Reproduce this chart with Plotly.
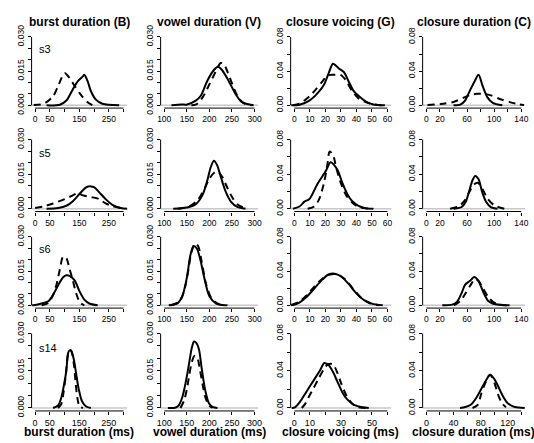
import plotly.graph_objects as go

# ---------------- data ----------------
column_titles = ["burst duration (B)", "vowel duration (V)", "closure voicing (G)", "closure duration (C)"]
x_titles = ["burst duration (ms)", "vowel duration (ms)", "closure voicing (ms)", "closure duration (ms)"]
speakers = ["s3", "s5", "s6", "s14"]

# tick values / labels
x_tickvals = [[0, 50, 100, 150, 200, 250, 300],
              [100, 150, 200, 250, 300],
              [0, 10, 20, 30, 40, 50, 60],
              [0, 20, 40, 60, 80, 100, 120, 140]]
x_ticktext_top = [["0", "50", "", "150", "", "250", ""],
                  ["100", "150", "200", "250", "300"],
                  ["0", "10", "20", "30", "40", "50", "60"],
                  ["0", "20", "", "60", "", "100", "", "140"]]
x_ticktext_bottom = [["0", "50", "", "150", "", "250", ""],
                     ["100", "150", "200", "250", "300"],
                     ["0", "10", "", "30", "", "50", ""],
                     ["0", "", "40", "", "80", "", "120", ""]]
y_tickvals_dur = [0, 0.005, 0.010, 0.015, 0.020, 0.025, 0.030]
y_ticktext_dur = ["0.000", "", "", "0.015", "", "", "0.030"]
y_tickvals_cl = [0, 0.02, 0.04, 0.06, 0.08]
y_ticktext_cl = ["0.00", "", "0.04", "", "0.08"]

# ---- s3 ----
s3_B_solid_x = [39, 84, 106, 128, 145, 162, 167, 178, 189, 206, 228, 285]
s3_B_solid_y = [0, 0.0003, 0.0021, 0.0071, 0.0106, 0.0127, 0.0134, 0.0106, 0.0063, 0.0025, 0.0007, 0]
s3_B_dash_x = [-5, 20, 39, 62, 78, 95, 101, 117, 134, 156, 178, 195]
s3_B_dash_y = [0.0001, 0.0004, 0.0014, 0.0042, 0.0085, 0.0134, 0.0141, 0.012, 0.0085, 0.0045, 0.0014, 0]
s3_V_solid_x = [116, 138, 149, 170, 181, 195, 210, 219, 228, 243, 258, 272, 298]
s3_V_solid_y = [0, 0.0004, 0.0003, 0.0021, 0.0042, 0.0106, 0.0155, 0.0169, 0.0155, 0.0106, 0.005, 0.0014, 0]
s3_V_dash_x = [160, 171, 185, 200, 214, 225, 232, 240, 251, 262, 276, 294]
s3_V_dash_y = [0, 0.0004, 0.0035, 0.0092, 0.0148, 0.0186, 0.018, 0.0148, 0.0092, 0.0042, 0.001, 0]
s3_G_solid_x = [-2, 3.3, 9.7, 15, 19.2, 22.4, 24.9, 28.7, 31.9, 35, 38.2, 42.5, 46.7, 51, 58.4]
s3_G_solid_y = [0, 0.0008, 0.0056, 0.0143, 0.0245, 0.039, 0.0488, 0.0432, 0.039, 0.028, 0.017, 0.0094, 0.0037, 0.0011, 0]
s3_G_dash_x = [-1, 3.3, 9.7, 13.9, 18.1, 21.3, 25.5, 29.8, 33, 37.2, 41.4, 47.8, 56.2]
s3_G_dash_y = [0, 0.0019, 0.0105, 0.0188, 0.028, 0.035, 0.0357, 0.0357, 0.03, 0.017, 0.0082, 0.0026, 0]
s3_C_solid_x = [40, 50, 57, 64, 71, 77, 83, 90, 98, 112]
s3_C_solid_y = [0, 0.0008, 0.0056, 0.017, 0.028, 0.0357, 0.0225, 0.0094, 0.003, 0]
s3_C_dash_x = [1.6, 21, 40, 55, 64.5, 74, 84, 94, 108, 123, 137, 144]
s3_C_dash_y = [0.0005, 0.0015, 0.004, 0.009, 0.012, 0.0135, 0.0135, 0.012, 0.0075, 0.0038, 0.0011, 0.0003]

# ---- s5 ----
s5_B_solid_x = [39, 78, 106, 128, 151, 173, 189, 201, 217, 239, 262, 290, 318]
s5_B_solid_y = [0, 0.0003, 0.0013, 0.0033, 0.0065, 0.0093, 0.0097, 0.0093, 0.0072, 0.0042, 0.0017, 0.0003, 0]
s5_B_dash_x = [0, 28, 61, 100, 128, 145, 162, 189, 217, 239, 262, 290]
s5_B_dash_y = [0.0003, 0.001, 0.0023, 0.0042, 0.0058, 0.0068, 0.0058, 0.0051, 0.0042, 0.0023, 0.0012, 0.0003]
s5_V_solid_x = [120, 150, 170, 185, 195, 203, 210, 217, 225, 235, 248, 262, 280]
s5_V_solid_y = [0, 0.0005, 0.002, 0.006, 0.012, 0.018, 0.0208, 0.019, 0.014, 0.008, 0.003, 0.0008, 0]
s5_V_dash_x = [130, 155, 175, 190, 200, 210, 218, 228, 240, 252, 265, 285]
s5_V_dash_y = [0, 0.001, 0.004, 0.009, 0.013, 0.0155, 0.0162, 0.014, 0.009, 0.0045, 0.0015, 0]
s5_G_solid_x = [-0.9, 3.3, 6.5, 9.7, 14.9, 20.3, 23.4, 27.6, 30.8, 34, 37.2, 41.4, 45.7, 51]
s5_G_solid_y = [0, 0.0026, 0.0082, 0.0112, 0.0287, 0.0438, 0.0539, 0.0456, 0.0306, 0.0175, 0.009, 0.0034, 0.0007, 0]
s5_G_dash_x = [8.6, 12.8, 16, 19.2, 21.3, 22.8, 24.9, 27, 29.8, 33.4, 37.2, 41.4, 45.7, 49.9]
s5_G_dash_y = [0, 0.0026, 0.0112, 0.0306, 0.0512, 0.0662, 0.0625, 0.0475, 0.0306, 0.0157, 0.0071, 0.0022, 0.0007, 0]
s5_C_solid_x = [40, 52, 58, 63, 68, 72, 77, 82, 88, 95, 105]
s5_C_solid_y = [0, 0.002, 0.008, 0.02, 0.033, 0.038, 0.034, 0.02, 0.008, 0.002, 0]
s5_C_dash_x = [35, 48, 56, 63, 70, 76, 82, 90, 100, 115]
s5_C_dash_y = [0, 0.003, 0.009, 0.019, 0.028, 0.03, 0.024, 0.012, 0.004, 0]

# ---- s6 ----
s6_B_solid_x = [-10, 0, 22, 45, 61, 78, 95, 106, 117, 134, 151, 167, 184, 212]
s6_B_solid_y = [0, 0.0002, 0.0008, 0.0018, 0.0046, 0.0088, 0.0123, 0.0132, 0.0129, 0.0109, 0.006, 0.0025, 0.0008, 0]
s6_B_dash_x = [22, 45, 61, 72, 84, 95, 106, 117, 128, 139, 153, 167]
s6_B_dash_y = [0, 0.0011, 0.0046, 0.0088, 0.0158, 0.0213, 0.0206, 0.0158, 0.0109, 0.0053, 0.0011, 0]
s6_V_solid_x = [110, 130, 140, 150, 158, 165, 172, 180, 190, 200, 215, 235]
s6_V_solid_y = [0, 0.001, 0.004, 0.012, 0.022, 0.026, 0.025, 0.02, 0.011, 0.004, 0.0008, 0]
s6_V_dash_x = [115, 135, 145, 153, 160, 168, 175, 183, 193, 205, 220, 240]
s6_V_dash_y = [0, 0.002, 0.007, 0.015, 0.023, 0.027, 0.026, 0.019, 0.009, 0.003, 0.0006, 0]
s6_G_solid_x = [-2, 3, 8, 13, 18, 22, 26, 30, 35, 40, 45, 50, 57]
s6_G_solid_y = [0, 0.003, 0.01, 0.02, 0.03, 0.036, 0.037, 0.034, 0.025, 0.014, 0.006, 0.002, 0]
s6_G_dash_x = [-2, 3, 8, 13, 18, 23, 28, 33, 38, 43, 48, 55]
s6_G_dash_y = [0.0005, 0.004, 0.012, 0.022, 0.031, 0.036, 0.036, 0.03, 0.019, 0.009, 0.003, 0]
s6_C_solid_x = [23.4, 38, 45, 52.5, 57, 64.4, 70.3, 76.7, 84, 91.3, 98.5, 110.6, 122.7]
s6_C_solid_y = [0, 0.0008, 0.0039, 0.0153, 0.024, 0.0286, 0.0331, 0.0286, 0.0153, 0.005, 0.0019, 0.0005, 0]
s6_C_dash_x = [40.4, 50, 57.3, 64.5, 71.8, 76.7, 84, 91.3, 98.5, 108, 118]
s6_C_dash_y = [0, 0.005, 0.0134, 0.0229, 0.0305, 0.0286, 0.0191, 0.0096, 0.0039, 0.0008, 0]

# ---- s14 ----
s14_B_solid_x = [61, 78, 89, 100, 106, 112, 117, 123, 131, 139, 148, 159, 173, 189]
s14_B_solid_y = [0, 0.001, 0.0042, 0.0107, 0.0152, 0.0222, 0.0232, 0.0229, 0.0197, 0.0139, 0.0075, 0.0027, 0.0006, 0]
s14_B_dash_x = [78, 89, 97, 104, 109, 115, 121, 126, 132, 137, 143, 151, 162]
s14_B_dash_y = [0, 0.0017, 0.0068, 0.0132, 0.0197, 0.0229, 0.0233, 0.0216, 0.0171, 0.0107, 0.0042, 0.0006, 0]
s14_V_solid_x = [108, 124, 132, 140, 148, 155.5, 161, 166, 171, 177, 183, 191, 199, 207, 218]
s14_V_solid_y = [0, 0.0001, 0.001, 0.0043, 0.0107, 0.0184, 0.0242, 0.0268, 0.0262, 0.0236, 0.0159, 0.0069, 0.0019, 0.0004, 0]
s14_V_dash_x = [136, 144, 150, 155.5, 161, 167, 173, 178, 185, 191, 199, 207]
s14_V_dash_y = [0, 0.003, 0.0075, 0.0133, 0.0184, 0.021, 0.0204, 0.0165, 0.0094, 0.0043, 0.001, 0]
s14_G_solid_x = [-1.7, 0.4, 3.7, 7, 10.2, 13.5, 16.7, 19.3, 22.2, 24.8, 27.6, 30.9, 34.1, 38.5, 43.9, 48]
s14_G_solid_y = [0, 0.0007, 0.0068, 0.0153, 0.0238, 0.0323, 0.0408, 0.0483, 0.0459, 0.0391, 0.0289, 0.017, 0.0092, 0.0034, 0.0007, 0]
s14_G_dash_x = [4.8, 7, 9.1, 12.4, 15.7, 18.9, 21.7, 24.8, 27.6, 30.4, 33.5, 37, 40.7, 46]
s14_G_dash_y = [0, 0.0044, 0.0112, 0.0214, 0.0316, 0.0415, 0.047, 0.047, 0.0384, 0.0255, 0.0136, 0.0051, 0.001, 0]
s14_C_solid_x = [49.6, 57.4, 65.3, 73, 80.9, 88.7, 94, 99, 104.4, 112.2, 120, 130.5, 145]
s14_C_solid_y = [0, 0.001, 0.0034, 0.0102, 0.0204, 0.0306, 0.0357, 0.0323, 0.0255, 0.0136, 0.0051, 0.001, 0]
s14_C_dash_x = [68, 75.7, 80.9, 86.1, 91.4, 94, 97.6, 101.8, 107, 112.2, 117.4]
s14_C_dash_y = [0, 0.0034, 0.0153, 0.0255, 0.034, 0.0357, 0.0323, 0.0238, 0.0119, 0.0044, 0.0007]

# panel table built from the named arrays: (solid x, solid y, dashed x, dashed y)
panels = [
    [(s3_B_solid_x, s3_B_solid_y, s3_B_dash_x, s3_B_dash_y),
     (s3_V_solid_x, s3_V_solid_y, s3_V_dash_x, s3_V_dash_y),
     (s3_G_solid_x, s3_G_solid_y, s3_G_dash_x, s3_G_dash_y),
     (s3_C_solid_x, s3_C_solid_y, s3_C_dash_x, s3_C_dash_y)],
    [(s5_B_solid_x, s5_B_solid_y, s5_B_dash_x, s5_B_dash_y),
     (s5_V_solid_x, s5_V_solid_y, s5_V_dash_x, s5_V_dash_y),
     (s5_G_solid_x, s5_G_solid_y, s5_G_dash_x, s5_G_dash_y),
     (s5_C_solid_x, s5_C_solid_y, s5_C_dash_x, s5_C_dash_y)],
    [(s6_B_solid_x, s6_B_solid_y, s6_B_dash_x, s6_B_dash_y),
     (s6_V_solid_x, s6_V_solid_y, s6_V_dash_x, s6_V_dash_y),
     (s6_G_solid_x, s6_G_solid_y, s6_G_dash_x, s6_G_dash_y),
     (s6_C_solid_x, s6_C_solid_y, s6_C_dash_x, s6_C_dash_y)],
    [(s14_B_solid_x, s14_B_solid_y, s14_B_dash_x, s14_B_dash_y),
     (s14_V_solid_x, s14_V_solid_y, s14_V_dash_x, s14_V_dash_y),
     (s14_G_solid_x, s14_G_solid_y, s14_G_dash_x, s14_G_dash_y),
     (s14_C_solid_x, s14_C_solid_y, s14_C_dash_x, s14_C_dash_y)],
]

# ---------------- layout geometry (pixels) ----------------
W, H = 534, 443
col_px = [(28, 125), (159, 258), (291, 393), (425, 529)]
col_xrange = [(-12, 312), (92, 308), (-2.4, 62.4), (-5.6, 145.6)]
row_px = [(26.2, 102.8), (132.6, 210.1), (233.5, 310.3), (333.6, 417.0)]
col_yrange = [(-0.0012, 0.0312), (-0.0012, 0.0312), (-0.0032, 0.0832), (-0.0032, 0.0832)]

FONT = "Liberation Sans, Arial, sans-serif"

fig = go.Figure()
layout = dict(width=W, height=H, margin=dict(l=0, r=0, t=0, b=0, pad=0),
              paper_bgcolor="white", plot_bgcolor="white", showlegend=False,
              font=dict(family=FONT, color="black"))
shapes = []
annotations = []

for r in range(4):
    for c in range(4):
        k = r * 4 + c + 1
        sfx = "" if k == 1 else str(k)
        xa, ya = "xaxis" + sfx, "yaxis" + sfx
        xr, yr = "x" + sfx, "y" + sfx
        x0p, x1p = col_px[c]
        top, bot = row_px[r]
        bottom_row = (r == 3)
        tick_fs = 9 if bottom_row else 8.5
        layout[xa] = dict(domain=[x0p / W, x1p / W], range=list(col_xrange[c]), anchor=yr,
                          showgrid=False, zeroline=False, showline=False,
                          ticks="outside", ticklen=3, tickwidth=1, tickcolor="black",
                          tickmode="array", tickvals=x_tickvals[c],
                          ticktext=(x_ticktext_bottom[c] if bottom_row else x_ticktext_top[c]),
                          tickfont=dict(size=tick_fs, family=FONT, color="black"))
        yvals = y_tickvals_dur if c < 2 else y_tickvals_cl
        ytext = y_ticktext_dur if c < 2 else y_ticktext_cl
        layout[ya] = dict(domain=[1 - bot / H, 1 - top / H], range=list(col_yrange[c]), anchor=xr,
                          showgrid=False, zeroline=False, showline=False,
                          ticks="outside", ticklen=3, tickwidth=1, tickcolor="black",
                          tickmode="array", tickvals=yvals, ticktext=ytext, tickangle=-90,
                          tickfont=dict(size=8.5, family=FONT, color="black"))
        # gray zero line
        shapes.append(dict(type="line", xref=xr + " domain", yref=yr, x0=0, x1=1, y0=0, y1=0,
                           line=dict(color="#c8c8c8", width=1.5), layer="below"))
        # R-style axis lines (first to last tick)
        shapes.append(dict(type="line", xref=xr + " domain", yref=yr, x0=0, x1=0,
                           y0=yvals[0], y1=yvals[-1], line=dict(color="black", width=1)))
        shapes.append(dict(type="line", xref=xr, yref=yr + " domain", x0=x_tickvals[c][0],
                           x1=x_tickvals[c][-1], y0=0, y1=0, line=dict(color="black", width=1)))
        sx, sy, dx, dy = panels[r][c]
        fig.add_trace(go.Scatter(x=sx, y=sy, xaxis=xr, yaxis=yr, mode="lines",
                                 line=dict(color="black", width=2, shape="spline", smoothing=0.8),
                                 hoverinfo="skip"))
        fig.add_trace(go.Scatter(x=dx, y=dy, xaxis=xr, yaxis=yr, mode="lines",
                                 line=dict(color="black", width=2, dash="7px,5px",
                                           shape="spline", smoothing=0.8),
                                 hoverinfo="skip"))

# column titles
for c in range(4):
    cx = (col_px[c][0] + col_px[c][1]) / 2 / W
    annotations.append(dict(text="<b>" + column_titles[c] + "</b>", x=cx, y=1 - 13 / H,
                            xref="paper", yref="paper", showarrow=False, xanchor="center",
                            yanchor="middle", font=dict(size=12, family=FONT, color="black")))
    annotations.append(dict(text="<b>" + x_titles[c] + "</b>", x=cx, y=1 - 438.5 / H,
                            xref="paper", yref="paper", showarrow=False, xanchor="center",
                            yanchor="middle", font=dict(size=12, family=FONT, color="black")))

# speaker labels
label_y = [42, 149, 249, 352]
for r in range(4):
    annotations.append(dict(text=speakers[r], x=33 / W, y=1 - label_y[r] / H, xref="paper",
                            yref="paper", showarrow=False, xanchor="left", yanchor="middle",
                            font=dict(size=11, family=FONT, color="black")))

layout["shapes"] = shapes
layout["annotations"] = annotations
fig.update_layout(**layout)
fig.write_html("out.html", config={"displayModeBar": False},
               post_script="document.body.style.margin='0px';document.body.style.overflow='hidden';")
